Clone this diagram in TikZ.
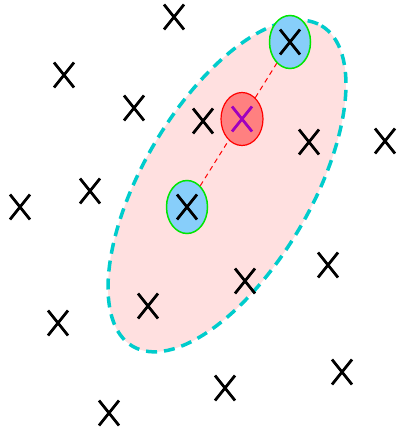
\documentclass[tikz,border=0pt]{standalone}
\usetikzlibrary{shapes.geometric}
\definecolor{cluster area}{RGB}{255,224,224}
\definecolor{cluster edge}{RGB}{0,204,204}
\definecolor{point area}{RGB}{135,206,250}
\definecolor{point edge}{RGB}{0,230,0}
\definecolor{mean area}{RGB}{255,128,128}
\definecolor{mean cross}{RGB}{160,0,190}
\tikzset{
  cross/.pic={\draw[line width=2.8pt] (-10,-12.5) -- (10,12.5) (-10,12.5) -- (10,-12.5);},
  pointnode/.style={ellipse, draw=point edge, fill=point area, line width=1.5pt, minimum width=41pt, minimum height=53pt, inner sep=0pt},
  meannode/.style={ellipse, draw=red, fill=mean area, line width=1.2pt, minimum width=42pt, minimum height=53pt, inner sep=0pt},
  link/.style={draw=red, line width=1pt, dash pattern=on 5pt off 4pt}
}
\begin{document}
\begin{tikzpicture}[x=1pt, y=-1pt]
	\useasboundingbox (0,0) rectangle (396,433);

	% cluster
	\draw[fill=cluster area, draw=cluster edge, line width=3.5pt, dash pattern=on 11pt off 7pt,
	  shift={(227,186)}, rotate=59.5] (0,0) ellipse [x radius=186, y radius=84];

	\node[pointnode] (b1) at (187,207) {};
	\node[pointnode] (b2) at (290,42) {};
	\node[meannode] (m) at (242,119) {};
	\path[link] (b1) -- (m) -- (b2);

	\foreach \p in {(174,17), (64,75), (134,108), (203,121), (309,142), (385,141),
	  (20,207), (90,191), (187,207), (290,42), (245,281), (328,265), (148,306),
	  (58,323), (225,388), (342,372), (109,413)}
	  \pic at \p {cross};
	\pic[mean cross] at (m) {cross};
\end{tikzpicture}
\end{document}
